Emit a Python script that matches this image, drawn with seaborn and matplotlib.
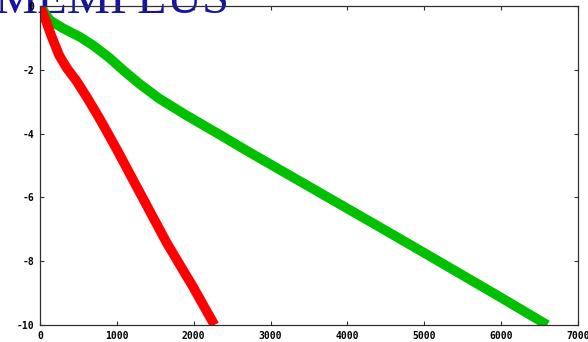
import matplotlib
matplotlib.use("Agg")
import matplotlib.pyplot as plt
import seaborn as sns
import pandas as pd

# Convergence history for the MEMPLUS matrix: two solvers, log10 residual vs. iterations
green_iter = [0, 130, 300, 520, 700, 900, 1100, 1300, 1550, 1900, 2300, 2700,
              3545, 4455, 5000, 5970, 6600]
green_res = [0, -0.45, -0.7, -0.97, -1.25, -1.62, -2.05, -2.45, -2.9, -3.42, -3.98,
             -4.55, -5.72, -6.98, -7.74, -9.1, -10]
red_iter = [0, 60, 150, 250, 350, 475, 620, 780, 1000, 1210, 1650, 1990, 2270]
red_res = [0, -0.35, -0.95, -1.55, -1.95, -2.35, -2.9, -3.55, -4.5, -5.45, -7.43,
           -8.8, -10]

x_ticks = [0, 1000, 2000, 3000, 4000, 5000, 6000, 7000]
y_ticks = [0, -2, -4, -6, -8, -10]
title = "MEMPLUS"

df = pd.concat([
    pd.DataFrame({"iter": green_iter, "res": green_res, "run": "a"}),
    pd.DataFrame({"iter": red_iter, "res": red_res, "run": "b"}),
])

sns.set_theme(style="white")
fig = plt.figure(figsize=(5.88, 3.42), dpi=100)
fig.patch.set_facecolor("white")
ax = fig.add_axes([40 / 588, 17 / 342, 538 / 588, 319 / 342])
ax.set_facecolor("none")

sns.lineplot(data=df, x="iter", y="res", hue="run", sort=False,
             palette={"a": "#00c000", "b": "#ff0000"}, linewidth=7,
             solid_capstyle="butt", solid_joinstyle="round",
             legend=False, ax=ax, estimator=None)

ax.set_xlim(0, 7000)
ax.set_ylim(-10, 0)
ax.set_xticks(x_ticks)
ax.set_yticks(y_ticks)
ax.set_xticklabels([str(v) for v in x_ticks])
ax.set_yticklabels([str(v) for v in y_ticks])
ax.set_xlabel("")
ax.set_ylabel("")

for s in ax.spines.values():
    s.set_visible(True)
    s.set_color("#303030")
    s.set_linewidth(0.9)

ax.tick_params(direction="in", length=3, width=0.8, color="#303030",
               top=True, right=True, bottom=True, left=True,
               labelsize=7, pad=4)
for lbl in ax.get_xticklabels() + ax.get_yticklabels():
    lbl.set_family("DejaVu Sans Mono")
    lbl.set_fontweight("bold")
    lbl.set_color("black")

fig.text(112 / 588, 1 - 13 / 342, title, ha="center", va="baseline",
         fontsize=35, family="Liberation Serif", color="#1414a0", zorder=-1)

fig.savefig("out.png", dpi=100)
